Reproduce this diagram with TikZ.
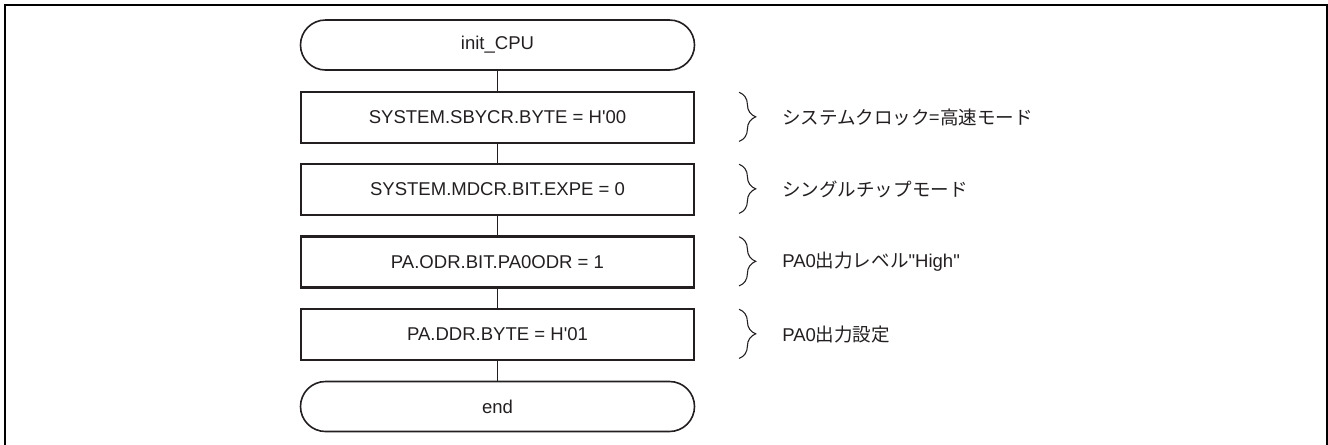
\documentclass[tikz,border=0pt]{standalone}
\usepackage{fontspec}
\setmainfont{Liberation Sans}[Ligatures=TeXOff]
\newfontfamily\cjk{Noto Sans CJK JP}
\usetikzlibrary{decorations.pathreplacing}
\definecolor{ink}{HTML}{231F20}
\begin{document}
\begin{tikzpicture}[x=0.75pt,y=-0.75pt,
  every node/.style={font=\fontsize{13.9pt}{16pt}\selectfont, text=ink},
  procbox/.style={draw=ink, line width=1.6pt, minimum width=294.75pt, minimum height=38.25pt, inner sep=0pt},
  termbox/.style={draw=ink, line width=1.2pt, minimum width=295.5pt, minimum height=37.5pt, rounded corners=18.75pt, inner sep=0pt},
  link/.style={draw=ink, line width=0.8pt},
  bracemark/.style={draw=ink, line width=0.8pt, decorate, decoration={brace, amplitude=12.5pt}},
  note/.style={anchor=west, inner sep=0pt}]
\useasboundingbox (0,0) rectangle (1328,444);
\draw[line width=2pt, black] (5,460) -- (5,5) -- (1327,5) -- (1327,460);
\node[termbox] (t0) at (497.5,45) {init\_CPU};
\node[procbox] (b1) at (497.5,117.5) {SYSTEM.SBYCR.BYTE = H'00};
\node[procbox] (b2) at (497.5,189.5) {SYSTEM.MDCR.BIT.EXPE = 0};
\node[procbox] (b3) at (497.5,262) {PA.ODR.BIT.PA0ODR = 1};
\node[procbox] (b4) at (497.5,334.5) {PA.DDR.BYTE = H'01};
\node[termbox] (t1) at (497.5,406.5) {end};
\draw[link] (t0) -- (b1);
\draw[link] (b1) -- (b2);
\draw[link] (b2) -- (b3);
\draw[link] (b3) -- (b4);
\draw[link] (b4) -- (t1);
\foreach \b in {b1,b2,b3,b4} {
  \coordinate (\b bt) at ([xshift=33pt,yshift=-1pt]\b.north east);
  \coordinate (\b bb) at ([xshift=33pt,yshift=2pt]\b.south east);
  \draw[bracemark] (\b bt) -- (\b bb);
}
\node[note] (n1) at (782,117.5) {{\cjk システムクロック=高速モード}};
\node[note] (n2) at (782,189.5) {{\cjk シングルチップモード}};
\node[note] (n3) at (782,262) {PA0{\cjk 出力レベル}"High"};
\node[note] (n4) at (782,334.5) {PA0{\cjk 出力設定}};
\end{tikzpicture}
\end{document}
